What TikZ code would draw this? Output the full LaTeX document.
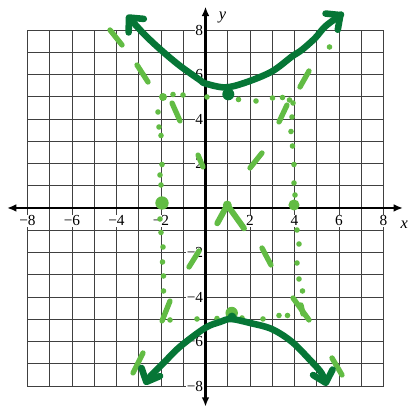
\documentclass[tikz,border=0pt]{standalone}
\usepackage{fontspec}
\setmainfont{Liberation Serif}
\usetikzlibrary{arrows.meta}
\definecolor{dkgreen}{RGB}{6,118,54}
\definecolor{ltgreen}{RGB}{98,188,68}
\begin{document}
\begin{tikzpicture}[x=0.5cm,y=0.5cm,
  gridline/.style={line width=0.6pt, draw=black!75},
  axisline/.style={line width=1.3pt, {Latex[length=6pt,width=5pt]}-{Latex[length=6pt,width=5pt]}},
  ticklab/.style={font=\fontsize{9.8}{11}\selectfont, fill=white, inner sep=0.5pt},
  axlab/.style={font=\fontsize{10.5}{12}\selectfont\itshape, inner sep=0pt},
  asym/.style={ltgreen, line width=3.4pt, line cap=round},
  hyper/.style={dkgreen, line width=4.2pt, line cap=round, line join=round,
    {Straight Barb[round,length=7pt,width=13pt]}-{Straight Barb[round,length=7pt,width=13pt]}},
]
\useasboundingbox (-9.236,-8.989) rectangle (9.191,9.348);
% grid
\draw[gridline, step=0.5cm] (-8,-8) grid (8,8);
% axes
\coordinate (xl) at (-8.92,0);
\coordinate (xr) at (8.875,0);
\coordinate (yb) at (0,-8.93);
\coordinate (yt) at (0,9.05);
\draw[axisline] (xl) -- (xr);
\draw[axisline] (yb) -- (yt);
% tick labels
\foreach \v/\t in {-8/−8,-6/−6,-4/−4,-2/−2,2/2,4/4,6/6,8/8}{
  \node[ticklab] (xt\v) at (\v,-0.575) {\t};
}
\foreach \v/\t in {8/8,6/6,4/4,2/2,-2/−2,-4/−4,-6/−6,-8/−8}{
  \node[ticklab, anchor=east] (yt\v) at (-0.06,\v) {\t};
}
\node[axlab] (xlab) at (8.93,-0.76) {x};
\node[axlab] (ylab) at (0.77,8.58) {y};
% light green dashes (asymptotes)
\foreach \a/\b/\c/\d in {
  -4.292/8.0/-3.752/7.325,
  -3.078/6.426/-2.584/5.662,
  -1.505/4.719/-1.146/3.910,
  -0.337/2.382/-0.112/1.843,
  4.651/6.157/4.247/5.438,
  3.663/4.629/3.303/3.865,
  2.539/2.472/2.0/1.798,
  -0.292/-1.932/-0.742/-2.652,
  -1.595/-4.180/-1.955/-5.078,
  -2.809/-6.516/-3.258/-7.415,
  2.539/-1.798/2.944/-2.562,
  3.933/-4.045/4.651/-5.033,
  4.292/-4.359/4.382/-4.764,
  5.685/-6.741/6.135/-7.505}{
  \draw[asym] (\a,\b) -- (\c,\d);
}
\draw[asym, line width=3.8pt, line join=round] (0.53,-0.688) -- (0.98,0.135) -- (1.73,-0.912);
% light green dots (box)
\foreach \p in {
  (-1.461,5.101),(-1.011,5.078),(0.067,4.988),(1.483,4.876),(2.270,4.809),
  (3.011,4.944),(3.461,4.966),(3.775,4.854),(3.933,4.719),
  (-2.135,4.314),(-2.090,3.640),(-2.0,3.258),(-1.955,1.955),(-2.045,1.483),
  (-2.0,1.034),(-2.045,-0.494),(-2.0,-1.101),(-1.910,-1.753),(-1.933,-2.427),
  (-1.888,-3.056),(-1.888,-3.730),
  (-1.595,-5.033),(-0.382,-4.988),(0.517,-4.966),(1.640,-4.943),(2.584,-4.988),
  (3.303,-4.831),(3.685,-4.831),
  (3.887,4.090),(3.842,3.438),(3.910,2.786),(3.977,1.955),(3.977,1.124),
  (4.022,0.584),(4.112,-0.989),(4.202,-1.618),(4.112,-2.472),(4.202,-3.191),
  (4.359,-3.730),(5.573,7.236)}{
  \fill[ltgreen] \p circle (0.125);
}
\fill[ltgreen] (-1.91,4.988) circle (0.18);
\fill[ltgreen] (-1.955,0.225) circle (0.3);
\fill[ltgreen] (3.977,0.135) circle (0.25);
\fill[ltgreen] (0.98,0.135) circle (0.2);
\fill[ltgreen] (1.177,-4.72) circle (0.28);
% dark green hyperbola branches
\draw[hyper] plot[smooth, tension=0.55] coordinates {
  (-3.54,8.67) (-2.49,7.55) (-1.29,6.50) (-0.25,5.75) (-0.02,5.60)
  (0.876,5.42) (1.775,5.63) (2.975,6.13) (3.874,6.80) (4.324,7.10)
  (4.922,7.63) (5.371,8.15) (5.968,8.60) (6.18,8.76)};
\draw[hyper] plot[smooth, tension=0.55] coordinates {
  (-2.719,-7.954) (-2.494,-7.581) (-1.896,-6.979) (-1.146,-6.233)
  (-0.022,-5.393) (0.652,-5.123) (1.146,-4.99) (2.0,-5.168) (2.975,-5.438)
  (3.874,-6.008) (4.696,-6.831) (5.222,-7.429) (5.447,-8.0)};
\fill[dkgreen] (1.025,5.11) circle (0.27);
\fill[dkgreen] (1.19,-4.9) circle (0.2);
\end{tikzpicture}
\end{document}
